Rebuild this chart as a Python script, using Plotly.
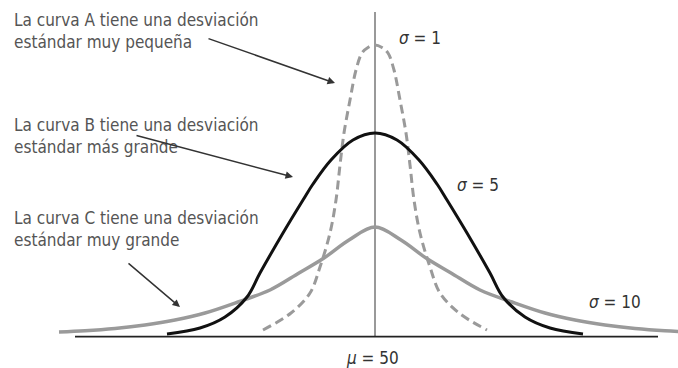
import plotly.graph_objects as go

# Curve A (sigma = 1), dashed
A_x = [38.8, 41.6, 43.5, 44.5, 45.5, 46.1, 46.5, 46.9, 47.5, 48.1, 48.7, 49.3, 50.0,
       50.7, 51.3, 51.9, 52.5, 53.1, 53.5, 53.9, 54.5, 55.5, 56.5, 58.4, 61.2]
A_y = [0.66, 2.36, 4.36, 6.96, 10.36, 13.66, 17.16, 20.36, 23.66, 26.66, 28.36, 28.91, 29.16,
       28.91, 28.36, 26.66, 23.66, 20.36, 17.16, 13.66, 10.36, 6.96, 4.36, 2.36, 0.66]

# Curve B (sigma = 5), black
B_x = [29.2, 32.5, 35.0, 37.2, 38.5, 40.8, 42.8, 43.8, 45.6, 47.8, 50.0,
       52.2, 54.4, 56.2, 57.2, 59.2, 61.5, 62.8, 65.0, 67.5, 70.8]
B_y = [0.26, 0.86, 1.96, 3.96, 6.36, 10.36, 13.66, 15.26, 17.66, 19.66, 20.36,
       19.66, 17.66, 15.26, 13.66, 10.36, 6.36, 3.96, 1.96, 0.86, 0.26]

# Curve C (sigma = 10), gray
C_x = [18.4, 21.0, 24.0, 27.0, 30.0, 33.0, 36.3, 39.5, 42.4, 44.9, 47.4, 50.0,
       52.6, 55.1, 57.6, 60.5, 63.7, 67.0, 70.0, 73.0, 76.0, 79.0, 81.6]
C_y = [0.46, 0.58, 0.81, 1.16, 1.66, 2.36, 3.46, 4.66, 6.36, 7.86, 9.66, 10.96,
       9.66, 7.86, 6.36, 4.66, 3.46, 2.36, 1.66, 1.16, 0.81, 0.58, 0.46]

MU = 50
baseline_x = [20.0, 78.3]
mean_line_top = 32.45

labels = [
    "La curva A tiene una desviación<br>estándar muy pequeña",
    "La curva B tiene una desviación<br>estándar más grande",
    "La curva C tiene una desviación<br>estándar muy grande",
]
label_pos = [(13.7, 30.55), (13.7, 20.1), (13.7, 10.75)]
arrows = [  # (tail_x, tail_y, head_x, head_y)
    (33.2, 29.85, 46.0, 25.35),
    (26.0, 20.15, 41.8, 15.95),
    (25.2, 7.45, 30.5, 2.95),
]
sigma_labels = ["<i>σ</i> = 1", "<i>σ</i> = 5", "<i>σ</i> = 10"]
sigma_pos = [(54.5, 29.85), (60.3, 15.15), (74.0, 3.45)]
mu_label = "<i>μ</i> = 50"
mu_pos = (49.7, -2.15)

FONT = "Liberation Sans Narrow, DejaVu Sans Condensed, Arial Narrow, sans-serif"

fig = go.Figure()
fig.add_trace(go.Scatter(x=C_x, y=C_y, mode="lines",
                         line=dict(color="#9a9a9a", width=3.5, shape="spline", smoothing=1.0),
                         hoverinfo="skip"))
fig.add_trace(go.Scatter(x=A_x, y=A_y, mode="lines",
                         line=dict(color="#9a9a9a", width=3, dash="9px,5px", shape="spline", smoothing=1.0),
                         hoverinfo="skip"))
fig.add_trace(go.Scatter(x=B_x, y=B_y, mode="lines",
                         line=dict(color="#111111", width=3, shape="spline", smoothing=1.0),
                         hoverinfo="skip"))

# baseline and mean line
fig.add_shape(type="line", x0=baseline_x[0], x1=baseline_x[1], y0=0, y1=0,
              line=dict(color="#222222", width=1.6), layer="above")
fig.add_shape(type="line", x0=MU, x1=MU, y0=0, y1=mean_line_top,
              line=dict(color="#777777", width=1.5), layer="below")

for txt, (x, y) in zip(labels, label_pos):
    fig.add_annotation(x=x, y=y, text=txt, showarrow=False, xanchor="left", yanchor="middle",
                       align="left", font=dict(family=FONT, size=17, color="#555555"))

for tx, ty, hx, hy in arrows:
    fig.add_annotation(x=hx, y=hy, ax=tx, ay=ty, axref="x", ayref="y", text="",
                       showarrow=True, arrowhead=2, arrowsize=1, arrowwidth=1.5,
                       arrowcolor="#333333")

for txt, (x, y) in zip(sigma_labels, sigma_pos):
    fig.add_annotation(x=x, y=y, text=txt, showarrow=False, xanchor="center", yanchor="middle",
                       font=dict(family=FONT, size=17, color="#333333"))

fig.add_annotation(x=mu_pos[0], y=mu_pos[1], text=mu_label, showarrow=False,
                   xanchor="center", yanchor="middle",
                   font=dict(family=FONT, size=17, color="#333333"))

fig.update_layout(
    width=678, height=368,
    margin=dict(l=0, r=0, t=0, b=0),
    paper_bgcolor="white", plot_bgcolor="white",
    showlegend=False,
    xaxis=dict(range=[12.5, 80.3], visible=False, fixedrange=True),
    yaxis=dict(range=[-3.14, 33.66], visible=False, fixedrange=True),
)

fig.write_html("out.html", config={"displayModeBar": False},
               post_script="document.body.style.margin='0px';document.body.style.overflow='hidden';")
